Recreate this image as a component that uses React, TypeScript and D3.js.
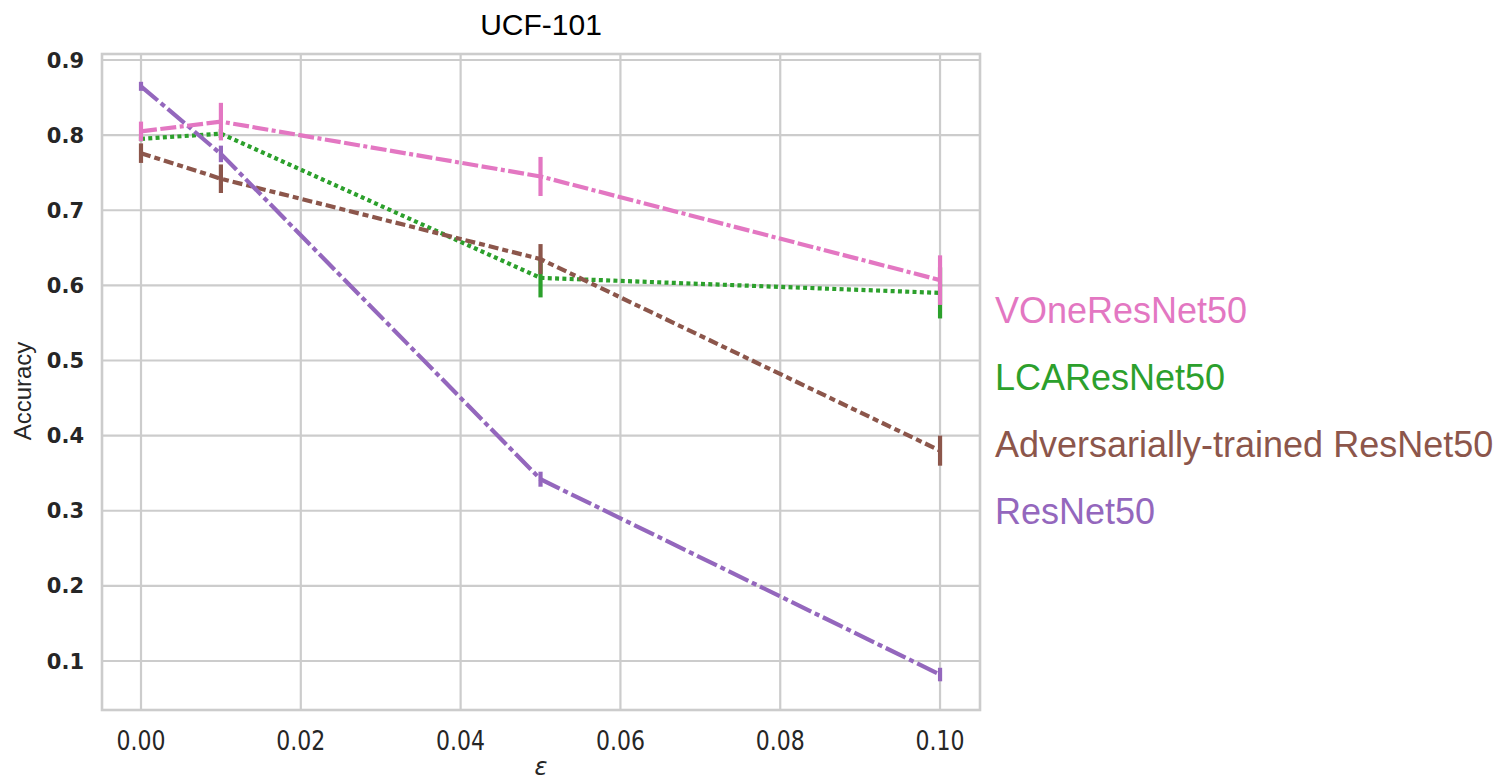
import React from "react";
import * as d3 from "d3";

const W = 1512;
const H = 780;

const epsilons = [0, 0.01, 0.05, 0.1];
const xTicks = [0, 0.02, 0.04, 0.06, 0.08, 0.1];
const yTicks = [0.1, 0.2, 0.3, 0.4, 0.5, 0.6, 0.7, 0.8, 0.9];

const voneAcc = [0.805, 0.818, 0.745, 0.607];
const voneErr = [0.013, 0.025, 0.026, 0.033];
const lcaAcc = [0.795, 0.802, 0.61, 0.59];
const lcaErr = [0.003, 0.006, 0.026, 0.034];
const advAcc = [0.776, 0.742, 0.635, 0.38];
const advErr = [0.013, 0.019, 0.02, 0.02];
const resAcc = [0.865, 0.775, 0.342, 0.082];
const resErr = [0.006, 0.011, 0.01, 0.009];

const seriesNames = ["VOneResNet50", "LCAResNet50", "Adversarially-trained ResNet50", "ResNet50"];
const seriesColors = ["#e377c2", "#2ca02c", "#8c564b", "#9467bd"];
const seriesDashes = ["16,3.5,16,3.5,4,3.5", "4,3.3", "10,4,6,4", "22,4,5,4"];
const seriesAcc = [voneAcc, lcaAcc, advAcc, resAcc];
const seriesErr = [voneErr, lcaErr, advErr, resErr];
const drawOrder = [1, 2, 3, 0];

const margin = { left: 102, right: 980, top: 54, bottom: 710 };

export default function App() {
  const x = d3.scaleLinear().domain([-0.00488, 0.105]).range([margin.left, margin.right]);
  const y = d3.scaleLinear().domain([0.0348, 0.908]).range([margin.bottom, margin.top]);
  const line = d3
    .line<[number, number]>()
    .x((d) => x(d[0]))
    .y((d) => y(d[1]));
  const grid = "#cccccc";

  return (
    <svg
      width={W}
      height={H}
      style={{ position: "absolute", left: 0, top: 0, background: "#fff" }}
    >
      {/* grid */}
      {xTicks.map((t) => (
        <line key={"gx" + t} x1={x(t)} x2={x(t)} y1={margin.top} y2={margin.bottom} stroke={grid} strokeWidth={2.2} />
      ))}
      {yTicks.map((t) => (
        <line key={"gy" + t} x1={margin.left} x2={margin.right} y1={y(t)} y2={y(t)} stroke={grid} strokeWidth={2.2} />
      ))}
      <rect
        x={margin.left}
        y={margin.top}
        width={margin.right - margin.left}
        height={margin.bottom - margin.top}
        fill="none"
        stroke={grid}
        strokeWidth={2.6}
      />
      {/* tick labels */}
      {xTicks.map((t) => (
        <text
          key={"tx" + t}
          x={x(t)}
          y={750}
          textAnchor="middle"
          fontFamily="DejaVu Sans"
          fontSize={26}
          textLength={49}
          lengthAdjust="spacingAndGlyphs"
          fill="#262626"
        >
          {d3.format(".2f")(t)}
        </text>
      ))}
      {yTicks.map((t) => (
        <text
          key={"ty" + t}
          x={84}
          y={y(t)}
          dy="0.36em"
          textAnchor="end"
          fontFamily="DejaVu Sans"
          fontWeight="bold"
          fontSize={21}
          fill="#262626"
        >
          {d3.format(".1f")(t)}
        </text>
      ))}
      <text
        x={541}
        y={775}
        textAnchor="middle"
        fontFamily="DejaVu Sans"
        fontStyle="italic"
        fontSize={24}
        fill="#262626"
      >
        ε
      </text>
      <text
        transform={`translate(31,391) rotate(-90)`}
        textAnchor="middle"
        fontFamily="Liberation Sans, Arial"
        fontSize={24}
        fill="#262626"
      >
        Accuracy
      </text>
      <text x={541} y={35} textAnchor="middle" fontFamily="Liberation Sans, Arial" fontSize={30} fill="#000">
        UCF-101
      </text>
      {/* series */}
      {drawOrder.map((si) => {
        const pts = epsilons.map((e, i) => [e, seriesAcc[si][i]] as [number, number]);
        return (
          <g key={"s" + si}>
            <path
              d={line(pts) || ""}
              fill="none"
              stroke={seriesColors[si]}
              strokeWidth={4.2}
              strokeDasharray={seriesDashes[si]}
            />
            {epsilons.map((e, i) => (
              <line
                key={"e" + i}
                x1={x(e)}
                x2={x(e)}
                y1={y(seriesAcc[si][i] - seriesErr[si][i])}
                y2={y(seriesAcc[si][i] + seriesErr[si][i])}
                stroke={seriesColors[si]}
                strokeWidth={4.2}
              />
            ))}
          </g>
        );
      })}
      {/* labels */}
      {seriesNames.map((n, i) => (
        <text
          key={"l" + i}
          x={995}
          y={323 + i * 67}
          fontFamily="Liberation Sans, Arial"
          fontSize={36}
          fill={seriesColors[i]}
        >
          {n}
        </text>
      ))}
    </svg>
  );
}
